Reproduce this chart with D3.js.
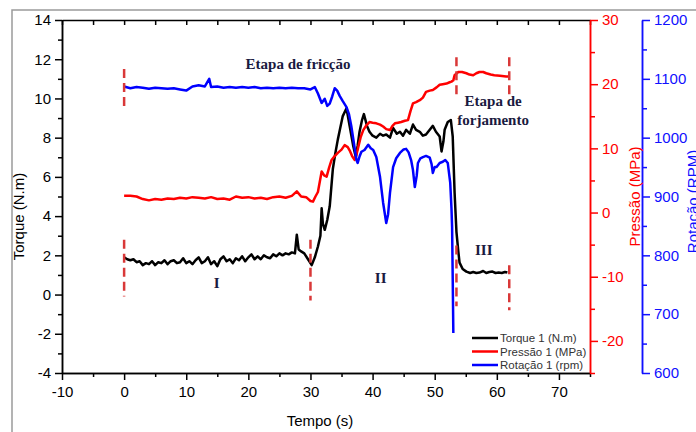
<!DOCTYPE html>
<meta charset="utf-8">
<style>
body { margin: 0; background: #fff; }
text { font-family: "Liberation Sans", Arial, sans-serif; }
.ann { font-family: "Liberation Serif", "Times New Roman", serif; font-weight: bold; font-size: 15px; fill: #1a1a40; }
.line { fill: none; stroke-width: 2.5px; stroke-linejoin: round; }
</style>
<svg width="696" height="432"></svg>
<script src="https://cdn.jsdelivr.net/npm/d3@7"></script>
<script>
// torque 1 (N.m)
var tTorque = [0,0.5,1,1.5,2,2.5,3,3.5,4,4.5,5,5.5,6,6.5,7,7.5,8,8.5,9,9.5,10,10.5,11,11.5,12,12.5,13,13.5,14,14.5,15,15.5,16,16.5,17,17.5,18,18.5,19,19.5,20,20.5,21,21.5,22,22.5,23,23.5,24,24.5,25,25.5,26,26.5,27,27.5,27.8,28.1,28.5,29,29.5,30.2,30.7,31.2,31.6,31.8,32,32.3,32.7,33.1,33.6,34,34.4,34.8,35.2,35.8,36.3,36.9,37.3,37.6,37.9,38.3,38.6,39.1,39.5,40,40.6,41.2,41.7,42.2,42.8,43.3,43.9,44.4,44.9,45.4,46,46.5,47,47.6,48.1,48.6,49.2,49.7,50.2,50.8,51.1,51.4,51.6,52.1,52.6,52.9,53.2,53.5,53.8,54,54.5,55.1,55.7,56.2,56.7,57.2,57.8,58.3,58.8,59.3,59.8,60.3,60.8,61.3,61.7];
var torque = [1.9,1.8,1.75,1.8,1.65,1.7,1.5,1.6,1.55,1.7,1.5,1.65,1.6,1.75,1.55,1.7,1.75,1.6,1.65,1.85,1.6,1.7,1.55,1.75,1.9,1.6,1.7,1.9,1.55,1.7,1.45,1.8,1.95,1.7,1.8,1.6,1.85,1.75,1.95,1.7,1.9,2.05,1.8,1.95,1.8,2.0,1.9,1.85,2.05,1.95,2.1,2.0,2.1,2.05,2.15,2.1,3.05,2.3,2.2,2.1,1.85,1.5,1.9,2.45,3.0,4.4,3.6,3.3,3.8,4.5,6.4,7.2,7.9,8.5,9.1,9.5,8.6,7.55,7.0,7.6,8.3,8.9,9.2,8.6,8.3,8.1,8.0,8.2,8.1,8.16,8.0,8.5,8.2,8.3,8.1,8.4,8.2,8.67,8.4,8.3,8.1,8.16,8.4,8.6,8.3,8.06,7.3,7.8,8.4,8.8,8.9,8.06,5.2,3.2,2.2,1.63,1.3,1.17,1.1,1.15,1.1,1.12,1.2,1.1,1.15,1.17,1.1,1.12,1.1,1.15,1.12];

// pressao 1 (MPa)
var tPressure = [0,1,2,3,4,5,6,7,8,9,10,11,12,13,14,15,16,17,18,19,20,21,22,23,24,25,26,27,27.8,28.5,29.3,30,30.4,30.8,31.2,31.8,32.2,32.6,33,33.4,33.9,34.4,35,35.5,36,36.3,36.7,37.1,37.4,37.7,38.1,38.5,39,39.5,40,40.6,41.2,41.7,42.2,42.8,43.2,43.6,44.1,44.6,45.2,45.7,46.1,46.5,47,47.6,48.1,48.6,49.2,49.7,50.3,50.8,51.3,51.9,52.4,52.7,53,53.2,53.8,54.4,55.1,55.6,56.2,56.7,57.2,57.8,58.3,59,59.6,60.5,61.5,62];
var pressure = [2.6,2.6,2.5,2.1,1.9,2.1,2.0,2.2,2.1,2.3,2.2,2.4,2.3,2.2,2.4,2.1,2.2,2.0,2.5,2.3,2.4,2.2,2.3,2.1,2.4,2.5,2.3,2.6,3.3,2.5,2.4,1.8,1.7,2.5,3.2,6.4,5.8,5.6,7.0,8.2,8.8,9.3,9.8,10.5,10.2,9.7,8.8,8.2,9.0,10.2,11.8,12.85,13.6,14.1,14.0,13.9,13.7,13.4,13.0,12.85,13.5,13.9,14.0,14.1,14.3,14.4,15.8,17.0,17.2,17.5,17.9,18.8,19.0,19.1,19.5,19.9,20.0,20.1,20.3,20.4,20.6,21.4,21.9,21.9,21.7,21.5,21.4,21.7,21.9,21.9,21.7,21.5,21.4,21.3,21.2,21.2];

// rotacao 1 (rpm)
var tRotation = [0,1,2,3,4,5,6,7,8,9,10,11,12,13,13.7,14,15,16,17,18,19,20,21,22,23,24,25,26,27,28,29,30,30.7,31.2,31.8,32.3,32.7,33.1,33.5,33.9,34.3,34.7,35.2,35.8,36.2,36.6,37,37.4,37.6,37.9,38.2,38.7,39.3,39.7,40.1,40.6,41.2,41.7,42.2,42.5,42.8,43.3,43.8,44.4,45,45.4,45.8,46.2,46.5,46.8,47.1,47.3,47.7,48.1,48.6,49.2,49.5,49.7,50,50.3,50.8,51.3,51.7,52.1,52.5,52.7,52.8,52.9,53];
var rotation = [1087,1084,1086,1085,1083,1085,1084,1083,1084,1082,1080,1087,1089,1087,1100,1086,1087,1085,1086,1085,1086,1085,1086,1084,1085,1084,1085,1084,1085,1084,1084,1082,1086,1075,1059,1066,1054,1058,1070,1084,1080,1071,1062,1052,1040,1018,990,962,957,968,976,979,988,982,979,967,933,889,855,870,906,950,965,974,980,981,975,962,945,916,935,957,965,967,969,966,955,940,950,950,957,959,962,957,923,880,848,760,668];

// stage markers (red dashed), in torque units
var stageTime = [0, 0, 30, 53.5, 53.5, 62, 62];
var stageLow = [9.4, -0.1, -0.3, 10.1, -0.6, 10.1, -0.8];
var stageHigh = [11.5, 2.8, 2.8, 12.1, 2.5, 12.1, 1.5];

var xTicks = [-10, 0, 10, 20, 30, 40, 50, 60, 70];
var torqueTicks = [-4, -2, 0, 2, 4, 6, 8, 10, 12, 14];
var pressureTicks = [-20, -10, 0, 10, 20, 30];
var rotationTicks = [600, 700, 800, 900, 1000, 1100, 1200];

var legendNames = ["Torque 1 (N.m)", "Pressão 1 (MPa)", "Rotação 1 (rpm)"];
var colors = ["#000000", "#ff0000", "#0000ff"];

var svg = d3.select("svg"),
    margin = {top: 20, left: 62},
    width = 528,
    height = 353;

// outer frame
svg.append("rect")
    .attr("x", 12).attr("y", 10)
    .attr("width", 720).attr("height", 460)
    .attr("fill", "none")
    .attr("stroke", "#9a9a9a")
    .attr("stroke-width", 1.5);

var g = svg.append("g").attr("transform", "translate(" + margin.left + "," + margin.top + ")");

var x = d3.scaleLinear().domain([-10, 75]).range([0, width]),
    yT = d3.scaleLinear().domain([-4, 14]).range([height, 0]),
    yP = d3.scaleLinear().domain([-25, 30]).range([height, 0]),
    yR = d3.scaleLinear().domain([600, 1200]).range([height, 0]);

// plain hyphen, no thousands separator
var plain = function(d) { return String(d); };

function minor(ticks, step) {
  return ticks.map(function(d) { return d + step; });
}

function styleAxis(sel, color, size) {
  sel.select(".domain").attr("stroke", color).attr("stroke-width", 1.5);
  sel.selectAll(".tick line").attr("stroke", color).attr("stroke-width", 1.5);
  sel.selectAll(".tick text").attr("fill", color).style("font-size", size + "px");
}

// bottom axis
g.append("g")
    .attr("transform", "translate(0," + height + ")")
    .call(d3.axisBottom(x).tickValues(xTicks).tickFormat(plain).tickSize(7).tickPadding(6).tickSizeOuter(0))
    .call(styleAxis, "#000", 15);
g.append("g")
    .attr("transform", "translate(0," + height + ")")
    .call(d3.axisBottom(x).tickValues(minor(xTicks, 5)).tickSize(4).tickFormat("").tickSizeOuter(0))
    .call(styleAxis, "#000", 15);

// top axis (ticks inward)
g.append("g")
    .call(d3.axisTop(x).tickValues(xTicks.concat(minor(xTicks, 5))).tickSize(-5).tickFormat("").tickSizeOuter(0))
    .call(styleAxis, "#000", 15);

// left axis
g.append("g")
    .call(d3.axisLeft(yT).tickValues(torqueTicks).tickFormat(plain).tickSize(7).tickPadding(4).tickSizeOuter(0))
    .call(styleAxis, "#000", 15);
g.append("g")
    .call(d3.axisLeft(yT).tickValues(minor(torqueTicks, 1).slice(0, -1)).tickSize(4).tickFormat("").tickSizeOuter(0))
    .call(styleAxis, "#000", 15);

// pressure axis
g.append("g")
    .attr("transform", "translate(" + width + ",0)")
    .call(d3.axisRight(yP).tickValues(pressureTicks).tickFormat(plain).tickSize(8).tickPadding(4).tickSizeOuter(0))
    .call(styleAxis, "#ff0000", 15);
g.append("g")
    .attr("transform", "translate(" + width + ",0)")
    .call(d3.axisRight(yP).tickValues(minor(pressureTicks, -5)).tickSize(5).tickFormat("").tickSizeOuter(0))
    .call(styleAxis, "#ff0000", 15);

// rotation axis
g.append("g")
    .attr("transform", "translate(" + (width + 52) + ",0)")
    .call(d3.axisRight(yR).tickValues(rotationTicks).tickFormat(plain).tickSize(8).tickPadding(4).tickSizeOuter(0))
    .call(styleAxis, "#1010ff", 15);
g.append("g")
    .attr("transform", "translate(" + (width + 52) + ",0)")
    .call(d3.axisRight(yR).tickValues(minor(rotationTicks, 50).slice(0, -1)).tickSize(5).tickFormat("").tickSizeOuter(0))
    .call(styleAxis, "#1010ff", 15);

// axis titles
g.append("text")
    .attr("transform", "translate(-38," + (height / 2 + 20) + ") rotate(-90)")
    .attr("text-anchor", "middle")
    .style("font-size", "15px")
    .text("Torque (N.m)");

g.append("text")
    .attr("x", width / 2 - 6)
    .attr("y", height + 53)
    .attr("text-anchor", "middle")
    .style("font-size", "15px")
    .text("Tempo (s)");

g.append("text")
    .attr("transform", "translate(" + (width + 50) + "," + (height / 2) + ") rotate(-90)")
    .attr("text-anchor", "middle")
    .attr("fill", "#ff0000")
    .style("font-size", "15px")
    .text("Pressão (MPa)");

// partly outside the frame, as in the source figure
g.append("text")
    .attr("transform", "translate(" + (width + 108) + "," + (height / 2 + 5) + ") rotate(-90)")
    .attr("text-anchor", "middle")
    .attr("fill", "#1010ff")
    .style("font-size", "15px")
    .text("Rotação (RPM)");

// series
var series = [
  {pts: d3.zip(tTorque, torque), y: yT},
  {pts: d3.zip(tPressure, pressure), y: yP},
  {pts: d3.zip(tRotation, rotation), y: yR}
];

series.forEach(function(s, i) {
  var line = d3.line()
      .x(function(d) { return x(d[0]); })
      .y(function(d) { return s.y(d[1]); });
  g.append("path")
      .attr("class", "line")
      .attr("d", line(s.pts))
      .style("stroke", colors[i]);
});

// stage markers
g.selectAll(".stage")
    .data(d3.range(stageTime.length))
  .enter().append("line")
    .attr("class", "stage")
    .attr("x1", function(i) { return x(stageTime[i]); })
    .attr("x2", function(i) { return x(stageTime[i]); })
    .attr("y1", function(i) { return yT(stageHigh[i]); })
    .attr("y2", function(i) { return yT(stageLow[i]); })
    .attr("stroke", "#d93838")
    .attr("stroke-width", 2.5)
    .attr("stroke-dasharray", "9,5");

// annotations
var ann = [
  {t: 28, v: 11.5, lines: ["Etapa de fricção"]},
  {t: 59.4, v: 9.6, lines: ["Etapa de", "forjamento"]},
  {t: 14.9, v: 0.35, lines: ["I"]},
  {t: 41.3, v: 0.6, lines: ["II"]},
  {t: 57.9, v: 2.0, lines: ["III"]}
];
ann.forEach(function(a) {
  var t = g.append("text")
      .attr("class", "ann")
      .attr("text-anchor", "middle")
      .attr("x", x(a.t))
      .attr("y", yT(a.v));
  a.lines.forEach(function(l, k) {
    t.append("tspan")
        .attr("x", x(a.t))
        .attr("dy", k ? 19 : 0)
        .text(l);
  });
});

// legend
var legend = g.append("g")
    .attr("transform", "translate(410,318)")
    .selectAll("g")
    .data(legendNames)
  .enter().append("g")
    .attr("transform", function(d, i) { return "translate(0," + (i * 13.5) + ")"; });

legend.append("line")
    .attr("x1", 0).attr("x2", 26)
    .attr("stroke", function(d, i) { return colors[i]; })
    .attr("stroke-width", 2.5);

legend.append("text")
    .attr("x", 28)
    .attr("dy", "0.35em")
    .attr("fill", "#333")
    .style("font-size", "11.5px")
    .text(function(d) { return d; });
</script>
